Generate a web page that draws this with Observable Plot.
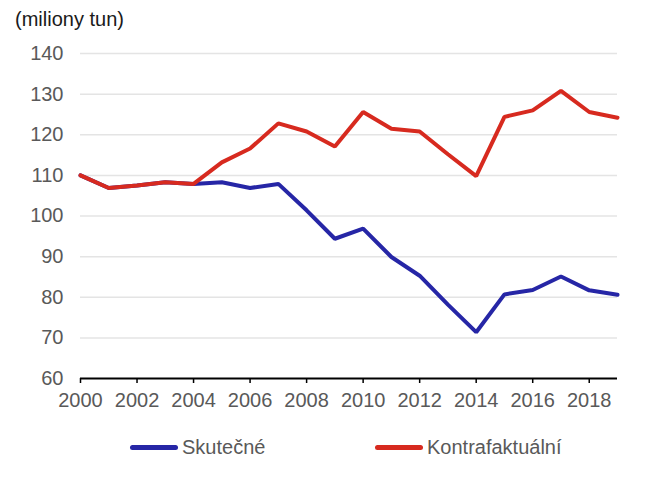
<!DOCTYPE html>
<html>
<head>
<meta charset="utf-8">
<script src="https://cdn.jsdelivr.net/npm/d3@7"></script>
<script src="https://cdn.jsdelivr.net/npm/@observablehq/plot@0.6"></script>
<style>
  body { margin: 0; background: #fff; font-family: "Liberation Sans", Arial, sans-serif; }
  #wrap { width: 670px; height: 482px; position: relative; overflow: hidden; }
  #title { height: 36px; position: relative; }
  #title span { position: absolute; left: 15px; top: 7px; font-size: 20px; color: #1a1a1a; line-height: 24px; }
  #legend { position: relative; height: 69px; }
  .sw { position: absolute; height: 5px; border-radius: 3px; }
  .lt { position: absolute; font-size: 20px; color: #595959; line-height: 24px; }
</style>
</head>
<body>
<div id="wrap">
  <div id="title"><span>(miliony tun)</span></div>
  <div id="chart"></div>
  <div id="legend"></div>
</div>
<script>
const years = [2000, 2001, 2002, 2003, 2004, 2005, 2006, 2007, 2008, 2009, 2010, 2011, 2012, 2013, 2014, 2015, 2016, 2017, 2018, 2019];
const actual = [110, 106.9, 107.5, 108.3, 107.9, 108.3, 106.9, 107.9, 101.4, 94.4, 96.9, 89.9, 85.3, 78.2, 71.4, 80.7, 81.8, 85.1, 81.7, 80.6];
const counterfactual = [110, 106.9, 107.5, 108.3, 107.9, 113.2, 116.6, 122.8, 120.8, 117.1, 125.6, 121.5, 120.8, 115.2, 109.8, 124.4, 126, 130.8, 125.6, 124.2];
const seriesNames = ["Skutečné", "Kontrafaktuální"];
const seriesColors = ["#2626a6", "#d72a1f"];
const yTicks = [60, 70, 80, 90, 100, 110, 120, 130, 140];
const xTicks = [2000, 2002, 2004, 2006, 2008, 2010, 2012, 2014, 2016, 2018];

const dataActual = years.map((y, i) => ({year: y, value: actual[i]}));
const dataCounter = years.map((y, i) => ({year: y, value: counterfactual[i]}));

const chart = Plot.plot({
  width: 670,
  height: 377,
  marginTop: 17,
  marginBottom: 35,
  marginLeft: 80,
  marginRight: 53,
  style: {fontFamily: "'Liberation Sans', Arial, sans-serif", fontSize: "20px", color: "#595959", background: "white"},
  x: {domain: [2000, 2019]},
  y: {domain: [60, 140]},
  marks: [
    Plot.gridY(yTicks.filter(d => d > 60), {stroke: "#e4e4e4", strokeOpacity: 1, strokeWidth: 1.5}),
    Plot.axisY(yTicks, {tickSize: 0, tickPadding: 17, label: null, fill: "#595959"}),
    Plot.axisX(xTicks, {tickSize: 5, tickPadding: 9, label: null, tickFormat: d => String(d), stroke: "#000", strokeWidth: 1.5, fill: "#595959"}),
    Plot.ruleY([60], {stroke: "#000", strokeWidth: 2}),
    Plot.line(dataActual, {x: "year", y: "value", stroke: seriesColors[0], strokeWidth: 4, strokeLinejoin: "miter"}),
    Plot.line(dataCounter, {x: "year", y: "value", stroke: seriesColors[1], strokeWidth: 4, strokeLinejoin: "miter"})
  ]
});
document.getElementById("chart").appendChild(chart);

const legend = document.getElementById("legend");
const legendPos = [[130, 182], [375, 427]];
seriesNames.forEach((name, i) => {
  const sw = document.createElement("div");
  sw.className = "sw";
  sw.style.left = legendPos[i][0] + "px";
  sw.style.width = "48px";
  sw.style.top = "32px";
  sw.style.background = seriesColors[i];
  legend.appendChild(sw);
  const t = document.createElement("div");
  t.className = "lt";
  t.style.left = legendPos[i][1] + "px";
  t.style.top = "22px";
  t.textContent = name;
  legend.appendChild(t);
});
</script>
</body>
</html>
